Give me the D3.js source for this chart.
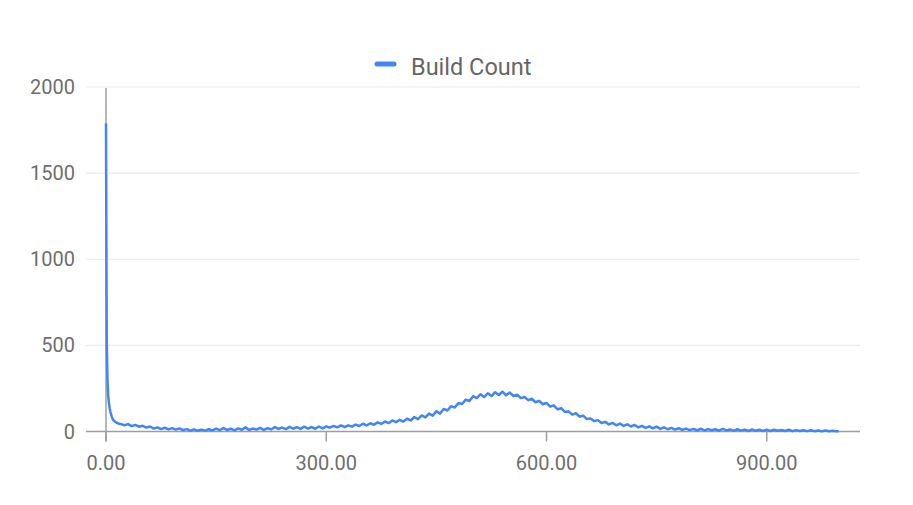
<!DOCTYPE html>
<html>
<head>
<meta charset="utf-8">
<script src="https://cdn.jsdelivr.net/npm/d3@7"></script>
<style>
  body { margin: 0; background: #ffffff; }
  text { font-family: Roboto, "Noto Sans", sans-serif; }
</style>
</head>
<body>
<svg id="chart"></svg>
<script>
// build time (x) and number of builds (y)
var buildTimes = [0, 1, 2, 3, 4, 5, 6, 7, 8, 9, 10, 12, 14, 16, 18,
    20, 25, 30, 35, 40, 45, 50, 55, 60, 65, 70, 75, 80, 85, 90, 95,
    100, 105, 110, 115, 120, 125, 130, 135, 140, 145, 150, 155, 160, 165, 170, 175, 180, 185, 190, 195,
    200, 205, 210, 215, 220, 225, 230, 235, 240, 245, 250, 255, 260, 265, 270, 275, 280, 285, 290, 295,
    300, 305, 310, 315, 320, 325, 330, 335, 340, 345, 350, 355, 360, 365, 370, 375, 380, 385, 390, 395,
    400, 405, 410, 415, 420, 425, 430, 435, 440, 445, 450, 455, 460, 465, 470, 475, 480, 485, 490, 495,
    500, 505, 510, 515, 520, 525, 530, 535, 540, 545, 550, 555, 560, 565, 570, 575, 580, 585, 590, 595,
    600, 605, 610, 615, 620, 625, 630, 635, 640, 645, 650, 655, 660, 665, 670, 675, 680, 685, 690, 695,
    700, 705, 710, 715, 720, 725, 730, 735, 740, 745, 750, 755, 760, 765, 770, 775, 780, 785, 790, 795,
    800, 805, 810, 815, 820, 825, 830, 835, 840, 845, 850, 855, 860, 865, 870, 875, 880, 885, 890, 895,
    900, 905, 910, 915, 920, 925, 930, 935, 940, 945, 950, 955, 960, 965, 970, 975, 980, 985, 990, 995, 998]

var buildCounts = [1790, 520, 300, 210, 165, 135, 115, 98, 85, 74, 66, 58, 52, 48, 45,
    44, 36, 43, 31, 38, 28, 33, 23, 29, 17, 24, 14, 22, 12, 20, 11,
    18, 8, 14, 5, 12, 4, 11, 5, 13, 6, 17, 8, 20, 9, 16, 7, 18, 10, 24, 9,
    17, 11, 21, 10, 19, 12, 26, 15, 23, 14, 27, 16, 25, 15, 28, 17, 26, 16, 29, 18,
    30, 22, 32, 24, 35, 26, 36, 28, 40, 32, 45, 35, 48, 39, 53, 44, 58, 49, 64, 54,
    68, 58, 74, 64, 84, 72, 93, 82, 104, 92, 118, 104, 131, 122, 147, 139, 166, 160, 185, 177,
    205, 194, 216, 200, 222, 206, 228, 212, 232, 210, 226, 206, 214, 194, 200, 182, 190, 170, 178, 158,
    166, 144, 152, 128, 136, 114, 116, 98, 106, 86, 92, 72, 76, 60, 66, 49, 56, 41, 50, 36,
    46, 32, 42, 29, 38, 24, 33, 21, 30, 18, 28, 15, 24, 13, 21, 11, 19, 9, 17, 8,
    15, 7, 16, 6, 14, 7, 13, 5, 15, 6, 12, 4, 13, 5, 11, 3, 12, 4, 10, 3,
    11, 3, 10, 4, 9, 3, 10, 2, 8, 3, 7, 2, 7, 2, 6, 2, 6, 2, 5, 2, 2]

var xTicks = [0, 300, 600, 900]
var yTicks = [0, 500, 1000, 1500, 2000]
var seriesName = "Build Count"

var width = 913
var height = 505

var x = d3.scaleLinear()
    .domain([0, 1027])
    .range([106, 860])

var y = d3.scaleLinear()
    .domain([0, 2000])
    .range([431.5, 87])

var svg = d3.select("#chart")
    .attr("width", width)
    .attr("height", height)

svg.append("rect")
    .attr("width", width)
    .attr("height", height)
    .attr("fill", "#ffffff")

// gridlines
svg.append("g")
    .selectAll("line")
    .data(yTicks.filter(function(d){ return d != 0 }))
    .enter()
    .append("line")
    .attr("x1", 86)
    .attr("x2", 860)
    .attr("y1", function(d){ return y(d) })
    .attr("y2", function(d){ return y(d) })
    .attr("stroke", "#ebebeb")
    .attr("stroke-width", 1.2)

// y labels
svg.append("g")
    .selectAll("text")
    .data(yTicks)
    .enter()
    .append("text")
    .attr("x", 75)
    .attr("y", function(d){ return y(d) })
    .attr("dy", "0.35em")
    .attr("text-anchor", "end")
    .attr("fill", "#6e6e6e")
    .attr("font-size", "20px")
    .text(function(d){ return d })

// x ticks and labels
var xAxis = svg.append("g")
xAxis.selectAll("line")
    .data(xTicks)
    .enter()
    .append("line")
    .attr("x1", function(d){ return x(d) })
    .attr("x2", function(d){ return x(d) })
    .attr("y1", y(0))
    .attr("y2", y(0) + 10)
    .attr("stroke", "#9e9e9e")
    .attr("stroke-width", 1.5)

xAxis.selectAll("text")
    .data(xTicks)
    .enter()
    .append("text")
    .attr("x", function(d){ return x(d) })
    .attr("y", 470)
    .attr("text-anchor", "middle")
    .attr("fill", "#6e6e6e")
    .attr("font-size", "20px")
    .text(function(d){ return d3.format(".2f")(d) })

// baseline
svg.append("line")
    .attr("x1", 86)
    .attr("x2", 860)
    .attr("y1", y(0))
    .attr("y2", y(0))
    .attr("stroke", "#9e9e9e")
    .attr("stroke-width", 1.5)

// y axis line
svg.append("line")
    .attr("x1", x(0))
    .attr("x2", x(0))
    .attr("y1", y(2000) + 1)
    .attr("y2", y(0) + 10)
    .attr("stroke", "#9e9e9e")
    .attr("stroke-width", 1.5)

// the series
var points = buildTimes.map(function(t, i){ return [t, buildCounts[i]] })

var line = d3.line()
    .x(function(d){ return x(d[0]) })
    .y(function(d){ return y(d[1]) })

svg.append("path")
    .datum(points)
    .attr("d", line)
    .attr("fill", "none")
    .attr("stroke", "#4285f4")
    .attr("stroke-width", 2.5)
    .attr("stroke-linejoin", "round")

// legend
var legend = svg.append("g")
legend.append("line")
    .attr("x1", 377)
    .attr("x2", 394)
    .attr("y1", 64)
    .attr("y2", 64)
    .attr("stroke", "#4285f4")
    .attr("stroke-width", 5)
    .attr("stroke-linecap", "round")

legend.append("text")
    .attr("x", 411)
    .attr("y", 67)
    .attr("dy", "0.35em")
    .attr("fill", "#666666")
    .attr("font-size", "23.5px")
    .text(seriesName)
</script>
</body>
</html>
